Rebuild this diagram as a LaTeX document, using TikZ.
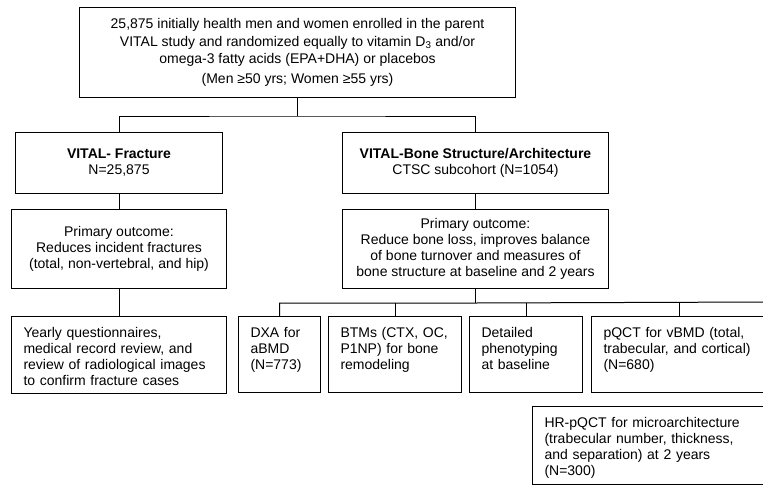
\documentclass[tikz,border=0pt]{standalone}
\usepackage{fontspec}
\setmainfont{Liberation Sans}
\usetikzlibrary{positioning}

\begin{document}
\begin{tikzpicture}[x=1pt, y=-1pt, line width=1pt,
  box/.style={draw, inner sep=0pt, anchor=north west, align=center, font=\fontsize{14pt}{16pt}\selectfont},
  lbox/.style={draw, anchor=north west, inner xsep=12pt, inner ysep=11pt, align=left, text height=10pt, font=\fontsize{14pt}{16pt}\selectfont}]
\useasboundingbox (0,0) rectangle (763,485);
\node [box, minimum width=436pt, minimum height=90pt, font=\fontsize{14pt}{17.5pt}\selectfont] (top) at (79,7) {25,875 initially health men and women enrolled in the parent\\ VITAL study and randomized equally to vitamin D\textsubscript{3} and/or\\ omega-3 fatty acids (EPA+DHA) or placebos\\[2pt] (Men ≥50 yrs; Women ≥55 yrs)};
\node [box, minimum width=207pt, minimum height=61pt] (frac) at (15,132) {\textbf{VITAL- Fracture}\\ N=25,875};
\node [box, minimum width=266pt, minimum height=61pt] (bone) at (342,132) {\textbf{VITAL-Bone Structure/Architecture}\\ CTSC subcohort (N=1054)};
\node [box, minimum width=215pt, minimum height=79pt] (fprim) at (11,209) {Primary outcome:\\ Reduces incident fractures\\ (total, non-vertebral, and hip)};
\node [box, minimum width=266pt, minimum height=79pt] (bprim) at (342,209) {Primary outcome:\\ Reduce bone loss, improves balance\\ of bone turnover and measures of\\ bone structure at baseline and 2 years};
\node [lbox, text width=191pt, text depth=45pt] (yearly) at (11,316) {Yearly questionnaires,\\ medical record review, and\\ review of radiological images\\ to confirm fracture cases};
\node [lbox, text width=58pt, text depth=44pt] (dxa) at (238,316) {DXA for\\ aBMD\\ (N=773)};
\node [lbox, text width=109pt, text depth=44pt] (btm) at (328,316) {BTMs (CTX, OC,\\ P1NP) for bone\\ remodeling};
\node [lbox, text width=89pt, text depth=44pt] (pheno) at (469,316) {Detailed\\ phenotyping\\ at baseline};
\node [lbox, text width=152pt, text depth=44pt] (pqct) at (591,316) {pQCT for vBMD (total,\\ trabecular, and cortical)\\ (N=680)};
\node [lbox, text width=216pt, text depth=46pt] (hrpqct) at (532,406) {HR-pQCT for microarchitecture\\ (trabecular number, thickness,\\ and separation) at 2 years\\ (N=300)};
\draw (top.south) -- ++(0,18) coordinate (split);
\draw (frac.north) |- (split) -| (bone.north);
\draw (frac) -- (fprim);
\draw (fprim) -- (yearly);
\draw (bone) -- (bprim);
\draw (bprim.south) -- ++(0,14) coordinate (bus);
\coordinate (busend) at (770,302);
\draw (dxa.north) |- (bus) -- (busend);
\foreach \n in {btm,pheno,pqct} \draw (\n.north) -- (\n.north |- bus);
\end{tikzpicture}
\end{document}
